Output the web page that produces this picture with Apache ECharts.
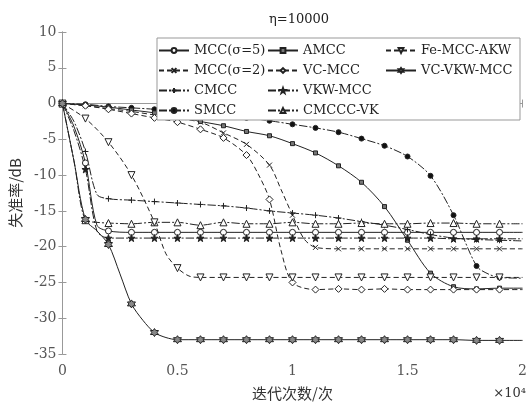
<!DOCTYPE html>
<html><head><meta charset="utf-8">
<script src="https://cdn.jsdelivr.net/npm/echarts@6/dist/echarts.min.js"></script>
<style>html,body{margin:0;padding:0;background:#fff}#c{width:530px;height:406px}</style>
</head><body><div id="c"></div>
<script>
// iterations (x10^4) where markers are drawn
const xMarks = [0,0.1,0.2,0.3,0.4,0.5,0.6,0.7,0.8,0.9,1.0,1.1,1.2,1.3,1.4,1.5,1.6,1.7,1.8,1.9,2.0];
const xTicks = [0,0.5,1,1.5,2];
const yTicks = [10,5,0,-5,-10,-15,-20,-25,-30,-35];

// series values (dB) at xMarks
const mcc5   = [0,-8.3,-17.8,-18.0,-18.0,-18.0,-18.0,-18.0,-18.0,-18.0,-18.0,-18.0,-18.0,-18.0,-18.0,-18.0,-18.0,-18.0,-18.0,-18.0,-18.0];
const mcc2   = [0,-0.3,-0.7,-1.1,-1.6,-2.1,-2.6,-4.1,-5.7,-8.6,-15.6,-20.1,-20.3,-20.3,-20.3,-20.3,-20.3,-20.3,-20.3,-20.3,-20.3];
const cmcc   = [0,-6.7,-13.3,-13.5,-13.7,-13.9,-14.1,-14.3,-14.6,-15.0,-15.3,-15.6,-16.0,-16.5,-17.0,-17.6,-18.3,-18.8,-19.0,-19.1,-19.2];
const smcc   = [0,-0.1,-0.4,-0.6,-0.8,-1.1,-1.4,-1.7,-2.0,-2.4,-2.9,-3.4,-4.0,-4.9,-5.9,-7.4,-10.1,-15.6,-22.7,-24.3,-24.4];
const amcc   = [0,-0.2,-0.5,-0.9,-1.3,-1.8,-2.5,-3.1,-3.9,-4.5,-5.6,-6.9,-8.7,-11.0,-14.4,-19.1,-23.7,-25.6,-25.9,-25.8,-25.8];
const vcmcc  = [0,-0.3,-0.8,-1.4,-2.0,-2.6,-3.6,-4.8,-7.2,-13.4,-25.0,-26.0,-25.9,-26.0,-25.9,-26.0,-26.0,-26.0,-26.0,-26.0,-26.0];
const vkwmcc = [0,-9.2,-18.8,-18.8,-18.8,-18.8,-18.8,-18.8,-18.8,-18.8,-18.8,-18.8,-18.8,-18.8,-18.8,-18.8,-18.8,-18.9,-18.9,-18.9,-18.9];
const cmcccvk= [0,-16.3,-16.7,-16.8,-16.6,-16.6,-17.0,-16.6,-16.8,-16.8,-16.6,-16.8,-16.8,-16.7,-16.8,-16.8,-16.7,-16.7,-16.8,-16.8,-16.8];
const feakw  = [0,-2.1,-5.4,-10.0,-16.6,-23.0,-24.3,-24.3,-24.3,-24.3,-24.3,-24.3,-24.3,-24.3,-24.3,-24.3,-24.3,-24.3,-24.3,-24.3,-24.3];
const vcvkw  = [0,-16.2,-19.7,-28.0,-32.0,-33.0,-33.0,-33.0,-33.0,-33.0,-33.0,-33.0,-33.0,-33.0,-33.0,-33.0,-33.0,-33.0,-33.1,-33.1,-33.1];

// extra points read between markers (curve shape)
const mcc5Mid    = [[0.05,-3.2],[0.15,-17.0]];
const mcc2Mid    = [[0.95,-12.0],[1.05,-18.9]];
const cmccMid    = [[0.05,-2.5],[0.15,-12.7]];
const smccMid    = [[1.85,-23.8]];
const amccMid    = [];
const vcmccMid   = [[0.85,-9.8],[0.95,-20.5]];
const vkwmccMid  = [[0.05,-3.8],[0.15,-17.8]];
const cmcccvkMid = [[0.05,-8.0],[0.15,-16.6]];
const feakwMid   = [[0.45,-21.0],[0.55,-24.1]];
const vcvkwMid   = [[0.05,-8.0],[0.15,-17.8],[0.25,-23.8],[0.35,-30.3],[0.45,-32.7]];

const names = ['MCC(σ=5)','MCC(σ=2)','CMCC','SMCC','AMCC','VC-MCC','VKW-MCC','CMCCC-VK','Fe-MCC-AKW','VC-VKW-MCC'];

function build(vals, mids){
  const pts = xMarks.map((x,i)=>{
    const o = {value:[x, vals[i]]};
    if (x >= 2) o.symbol = 'none';
    return o;
  });
  mids.forEach(p=>pts.push({value:p, symbol:'none'}));
  pts.sort((a,b)=>a.value[0]-b.value[0]);
  return pts;
}

const C = '#222';
const DASH = [5,3];
const DASHDOT = [8,2,2,2];
const HEX = 'path://M0,-10L2.9,-5L8.66,-5L5.8,0L8.66,5L2.9,5L0,10L-2.9,5L-8.66,5L-5.8,0L-8.66,-5L-2.9,-5Z';
const STAR = 'path://M0,-10L2.35,-3.24L9.51,-3.09L3.8,1.24L5.88,8.09L0,4L-5.88,8.09L-3.8,1.24L-9.51,-3.09L-2.35,-3.24Z';
const PLUS = 'path://M-5,0L5,0M0,-5L0,5';
const XMK = 'path://M-5,-5L5,5M-5,5L5,-5';

function ser(name, vals, mids, lineType, symbol, size, fill, rotate){
  return {
    name, type:'line', data: build(vals, mids), smooth:0.3,
    symbol, symbolSize:size, symbolRotate: rotate||0, showAllSymbol:true,
    lineStyle:{color:C, width:1, type:lineType},
    itemStyle:{color:fill, borderColor:C, borderWidth:1},
    emphasis:{disabled:true}, z:2
  };
}

const series = [
  ser(names[0], mcc5, mcc5Mid, 'solid', 'circle', 6, '#fff'),
  ser(names[1], mcc2, mcc2Mid, DASH, XMK, 5, C),
  ser(names[2], cmcc, cmccMid, DASHDOT, PLUS, 6, C),
  ser(names[3], smcc, smccMid, DASHDOT, 'circle', 5, '#111'),
  ser(names[4], amcc, amccMid, 'solid', 'rect', 4, '#777'),
  ser(names[5], vcmcc, vcmccMid, DASH, 'diamond', 7, '#fff'),
  ser(names[6], vkwmcc, vkwmccMid, DASHDOT, STAR, 7, C),
  ser(names[7], cmcccvk, cmcccvkMid, DASHDOT, 'triangle', 7, '#fff'),
  ser(names[8], feakw, feakwMid, DASH, 'triangle', 7, '#fff', 180),
  ser(names[9], vcvkw, vcvkwMid, 'solid', HEX, 8, '#888')
];

const FONT = 'DejaVu Serif';
const legendBase = {
  orient:'vertical', top:44, itemWidth:30, itemHeight:6, itemGap:7,
  textStyle:{fontFamily:FONT, fontSize:13, color:'#222'}, z:20, selectedMode:false,
  backgroundColor:'transparent', padding:0
};

const chart = echarts.init(document.getElementById('c'), null, {renderer:'canvas'});
chart.setOption({
  animation:false,
  backgroundColor:'#fff',
  title:{text:'η=10000', left:294, top:8, textAlign:'center',
    textStyle:{fontFamily:FONT, fontSize:13, fontWeight:'normal', color:'#222'}},
  grid:{left:61, right:3, top:32, bottom:51},
  legend:[
    Object.assign({}, legendBase, {left:158, data:names.slice(0,4)}),
    Object.assign({}, legendBase, {left:267, data:names.slice(4,8)}),
    Object.assign({}, legendBase, {left:385, data:names.slice(8,10)})
  ],
  graphic:[
    {type:'rect', shape:{x:157, y:38, width:363, height:82}, style:{fill:'#fff', stroke:'#999', lineWidth:1}, z:15},
    {type:'text', right:4, top:387, style:{text:'×10⁴', fontFamily:FONT, fontSize:13, fill:'#333'}, z:20}
  ],
  xAxis:[
    {type:'value', min:xTicks[0], max:xTicks[xTicks.length-1], interval:0.5,
     name:'迭代次数/次', nameLocation:'middle', nameGap:32,
     nameTextStyle:{fontFamily:'Noto Sans CJK SC', fontSize:15, color:'#333'},
     axisLine:{lineStyle:{color:'#999'}}, axisTick:{inside:true, length:4, lineStyle:{color:'#999'}},
     axisLabel:{fontFamily:FONT, fontSize:14, color:'#555', margin:10}, splitLine:{show:false}},
    {type:'value', position:'top', min:0, max:2, interval:0.5,
     axisLine:{show:true, lineStyle:{color:'#999'}}, axisTick:{inside:true, length:4, lineStyle:{color:'#999'}},
     axisLabel:{show:false}, splitLine:{show:false}}
  ],
  yAxis:[
    {type:'value', min:yTicks[yTicks.length-1], max:yTicks[0], interval:5,
     name:'失准率/dB', nameLocation:'middle', nameGap:39, nameRotate:90,
     nameTextStyle:{fontFamily:'Noto Sans CJK SC', fontSize:15, color:'#333'},
     axisLine:{show:true, lineStyle:{color:'#999'}}, axisTick:{show:true, inside:true, length:4, lineStyle:{color:'#999'}},
     axisLabel:{fontFamily:FONT, fontSize:14, color:'#555', margin:6}, splitLine:{show:false}},
    {type:'value', position:'right', min:-35, max:10, interval:5,
     axisLine:{show:true, lineStyle:{color:'#999'}}, axisTick:{show:true, inside:true, length:4, lineStyle:{color:'#999'}},
     axisLabel:{show:false}, splitLine:{show:false}}
  ],
  series
});
</script>
</body></html>
